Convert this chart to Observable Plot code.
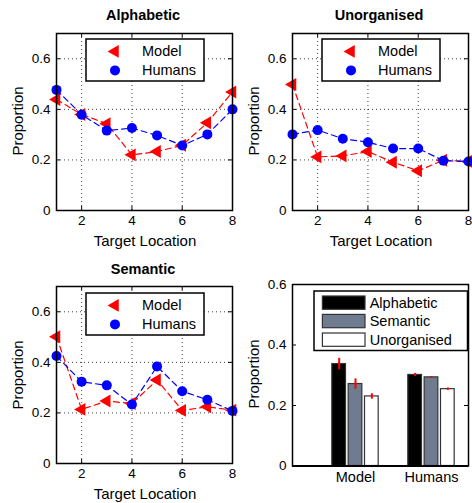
<!DOCTYPE html>
<html><head><meta charset="utf-8">
<script src="https://cdn.jsdelivr.net/npm/d3@7"></script>
<script src="https://cdn.jsdelivr.net/npm/@observablehq/plot@0.6"></script>
<style>
body{margin:0;background:#fff;font-family:"Liberation Sans",Arial,sans-serif;color:#000;}
#root{position:relative;width:472px;height:503px;overflow:hidden;background:#fff;}
.panel{position:absolute;}
.panel svg g[aria-label$="tick label"]{font-size:13.5px !important;}
.barpanel svg g[aria-label="x-axis tick label"]{font-size:14.5px !important;}
.txt{position:absolute;white-space:nowrap;transform:translate(-50%,-50%);line-height:1;}
.title{font-weight:bold;font-size:14.5px;}
.xlab{font-size:15px;}
.ylab{font-size:15px;transform:translate(-50%,-50%) rotate(-90deg);}
.legend{position:absolute;}
</style></head><body><div id="root"></div>
<script>
// ---- data ----
const locations = [1, 2, 3, 4, 5, 6, 7, 8];
const alphaModel  = [0.439, 0.380, 0.343, 0.220, 0.233, 0.258, 0.347, 0.469];
const alphaHumans = [0.477, 0.379, 0.316, 0.326, 0.297, 0.257, 0.301, 0.400];
const unorgModel  = [0.498, 0.212, 0.216, 0.233, 0.191, 0.157, 0.199, 0.194];
const unorgHumans = [0.301, 0.318, 0.284, 0.270, 0.245, 0.245, 0.197, 0.194];
const semModel    = [0.501, 0.214, 0.247, 0.237, 0.330, 0.210, 0.224, 0.211];
const semHumans   = [0.425, 0.323, 0.309, 0.233, 0.384, 0.286, 0.252, 0.208];

const groups = ["Model", "Humans"];
const conditions = ["Alphabetic", "Semantic", "Unorganised"];
const modelMeans = [0.337, 0.271, 0.230];
const modelErr   = [0.019, 0.017, 0.009];
const humanMeans = [0.301, 0.293, 0.254];
const humanErr   = [0.005, 0.003, 0.004];

const lineXTicks = [2, 4, 6, 8];
const lineYTicks = [0, 0.2, 0.4, 0.6];
const barYTicks = [0, 0.2, 0.4, 0.6];
const seriesNames = ["Model", "Humans"];

// ---- styles ----
const condFill = ["#000000", "#6f7b8f", "#ffffff"];
const FONT = "Liberation Sans, Arial, sans-serif";
const root = document.getElementById("root");

function fmtY(d) { return d === 0 ? "0" : d.toFixed(1); }

function place(el, left, top, extra) {
  const w = document.createElement("div");
  w.className = "panel" + (extra ? " " + extra : "");
  w.style.left = left + "px"; w.style.top = top + "px";
  w.appendChild(el);
  root.appendChild(w);
}
function addText(cls, text, x, y) {
  const d = document.createElement("div");
  d.className = "txt " + cls;
  d.textContent = text;
  d.style.left = x + "px"; d.style.top = y + "px";
  root.appendChild(d);
}

function linePanel(model, humans, height, mt, mb) {
  const W = 236, ml = 56, mr = 4;
  const iw = W - ml - mr, ih = height - mt - mb;
  const mRows = locations.map((x, i) => ({x, y: model[i]}));
  const hRows = locations.map((x, i) => ({x, y: humans[i]}));
  return Plot.plot({
    width: W, height, marginLeft: ml, marginRight: mr, marginTop: mt, marginBottom: mb,
    style: {fontFamily: FONT, fontSize: "13.5px", color: "#000", background: "transparent", overflow: "visible"},
    x: {domain: [1, 8]}, y: {domain: [0, 0.7]},
    marks: [
      Plot.gridX(lineXTicks, {stroke: "#000", strokeOpacity: 0.75, strokeDasharray: "1,3"}),
      Plot.gridY(lineYTicks.filter(d => d > 0), {stroke: "#000", strokeOpacity: 0.75, strokeDasharray: "1,3"}),
      Plot.ruleX(lineXTicks, {x: d => d, insetTop: ih - 4, stroke: "#000"}),
      Plot.ruleX(lineXTicks, {x: d => d, insetBottom: ih - 4, stroke: "#000"}),
      Plot.ruleY(lineYTicks, {y: d => d, insetRight: iw - 4, stroke: "#000"}),
      Plot.ruleY(lineYTicks, {y: d => d, insetLeft: iw - 4, stroke: "#000"}),
      Plot.axisX(lineXTicks, {tickSize: 0, tickPadding: 5, label: null, tickFormat: d => String(d)}),
      Plot.axisY(lineYTicks, {tickSize: 0, tickPadding: 6, label: null, tickFormat: fmtY}),
      Plot.line(mRows, {x: "x", y: "y", stroke: "#ff0000", strokeWidth: 1.2, strokeDasharray: "6,4"}),
      Plot.dot(mRows, {x: "x", y: "y", symbol: "triangle", rotate: -90, r: 4.8, fill: "#ff0000", stroke: "none"}),
      Plot.line(hRows, {x: "x", y: "y", stroke: "#0000ff", strokeWidth: 1.2, strokeDasharray: "6,4"}),
      Plot.dot(hRows, {x: "x", y: "y", r: 5, fill: "#0000ff", stroke: "none"}),
      Plot.frame({stroke: "#000", strokeWidth: 1.5})
    ]
  });
}

function barPanel(height, mt, mb) {
  const W = 236, ml = 56, mr = 4;
  const iw = W - ml - mr;
  const offsets = [-0.215, 0, 0.215];
  const bw = 0.09;
  const rows = [];
  groups.forEach((g, gi) => conditions.forEach((c, ci) => {
    const means = gi === 0 ? modelMeans : humanMeans;
    const errs = gi === 0 ? modelErr : humanErr;
    rows.push({g, gi: gi + 1, c, ci, mean: means[ci], err: errs[ci]});
  }));
  return Plot.plot({
    width: W, height, marginLeft: ml, marginRight: mr, marginTop: mt, marginBottom: mb,
    style: {fontFamily: FONT, fontSize: "13.5px", color: "#000", background: "transparent", overflow: "visible"},
    x: {domain: [0.171, 2.487]}, y: {domain: [0, 0.6]},
    marks: [
      Plot.rect(rows, {x1: d => d.gi + offsets[d.ci] - bw, x2: d => d.gi + offsets[d.ci] + bw,
        y1: 0, y2: "mean", fill: d => condFill[d.ci], stroke: "#333", strokeWidth: 1.2}),
      Plot.ruleX(rows, {x: d => d.gi + offsets[d.ci], y1: d => d.mean - d.err, y2: d => d.mean + d.err,
        stroke: "#ff0000", strokeWidth: 2}),
      Plot.ruleY(barYTicks, {y: d => d, insetRight: iw - 4, stroke: "#000"}),
      Plot.ruleY(barYTicks, {y: d => d, insetLeft: iw - 4, stroke: "#000"}),
      Plot.axisX([1, 2], {tickSize: 0, tickPadding: 6, label: null, tickFormat: d => groups[d - 1]}),
      Plot.axisY(barYTicks, {tickSize: 0, tickPadding: 6, label: null, tickFormat: fmtY}),
      Plot.frame({stroke: "#000", strokeWidth: 1.5}),
      Plot.ruleY([0], {stroke: "#000", strokeWidth: 2})
    ]
  });
}

function lineLegend(left, top) {
  const w = 118, h = 42;
  const svg = d3.create("svg").attr("width", w + 2).attr("height", h + 2).attr("class", "legend")
    .style("left", (left - 1) + "px").style("top", (top - 1) + "px").style("overflow", "visible");
  svg.append("rect").attr("x", 1).attr("y", 1).attr("width", w).attr("height", h)
    .attr("fill", "#fff").attr("stroke", "#000").attr("stroke-width", 1.5);
  const tri = d3.symbol(d3.symbolTriangle, Math.PI * 4.8 * 4.8)();
  const circ = d3.symbol(d3.symbolCircle, Math.PI * 5 * 5)();
  svg.append("path").attr("d", tri).attr("fill", "#ff0000").attr("transform", "translate(30,13.4) rotate(-90)");
  svg.append("path").attr("d", circ).attr("fill", "#0000ff").attr("transform", "translate(30,32.4)");
  seriesNames.forEach((s, i) => {
    svg.append("text").attr("x", 57).attr("y", i === 0 ? 13.4 : 32.4).attr("dy", "0.35em")
      .attr("font-family", FONT).attr("font-size", 14.5).text(s);
  });
  root.appendChild(svg.node());
}

function barLegend(left, top) {
  const w = 153.5, h = 59.5;
  const svg = d3.create("svg").attr("width", w + 2).attr("height", h + 2).attr("class", "legend")
    .style("left", (left - 1) + "px").style("top", (top - 1) + "px").style("overflow", "visible");
  svg.append("rect").attr("x", 1).attr("y", 1).attr("width", w).attr("height", h)
    .attr("fill", "#fff").attr("stroke", "#000").attr("stroke-width", 1.5);
  const ys = [6, 24.4, 43];
  conditions.forEach((c, i) => {
    svg.append("rect").attr("x", 9.4).attr("y", ys[i]).attr("width", 42.6).attr("height", 13.3)
      .attr("fill", condFill[i]).attr("stroke", "#333").attr("stroke-width", 1.2);
    svg.append("text").attr("x", 56.7).attr("y", ys[i] + 6.8).attr("dy", "0.35em")
      .attr("font-family", FONT).attr("font-size", 14.5).text(c);
  });
  root.appendChild(svg.node());
}

// ---- layout ----
place(linePanel(alphaModel, alphaHumans, 250, 33, 40), 0, 0);
place(linePanel(unorgModel, unorgHumans, 250, 33, 40), 236, 0);
place(linePanel(semModel, semHumans, 253, 36, 40), 0, 250);
place(barPanel(253, 34, 37.5), 236, 250, "barpanel");

lineLegend(85.7, 39.3);
lineLegend(321.7, 39.3);
lineLegend(85.7, 293.3);
barLegend(314.3, 290.7);

addText("title", "Alphabetic", 143, 14.5);
addText("title", "Unorganised", 379, 14.5);
addText("title", "Semantic", 143, 268.7);

addText("xlab", "Target Location", 145, 239.5);
addText("xlab", "Target Location", 381, 239.5);
addText("xlab", "Target Location", 145, 492.5);

addText("ylab", "Proportion", 16.5, 120.5);
addText("ylab", "Proportion", 252.5, 120.5);
addText("ylab", "Proportion", 16.5, 375);
addText("ylab", "Proportion", 252.5, 374);
</script>
</body></html>
